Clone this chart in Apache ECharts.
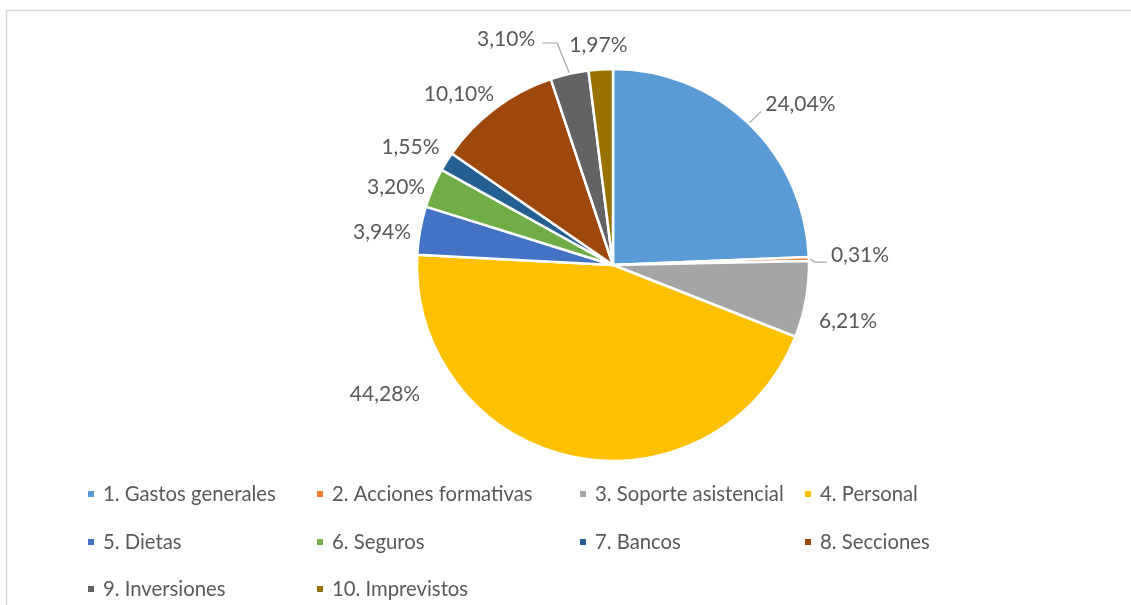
<!DOCTYPE html>
<html>
<head>
<meta charset="utf-8">
<script src="https://cdn.jsdelivr.net/npm/echarts@6/dist/echarts.min.js"></script>
<style>
html,body{margin:0;padding:0;background:#fff;}
#chart{width:1131px;height:605px;}
</style>
</head>
<body>
<div id="chart"></div>
<script>
const categories = ['1. Gastos generales', '2. Acciones formativas', '3. Soporte asistencial', '4. Personal', '5. Dietas', '6. Seguros', '7. Bancos', '8. Secciones', '9. Inversiones', '10. Imprevistos'];
const values = [24.04, 0.31, 6.21, 44.28, 3.94, 3.20, 1.55, 10.10, 3.10, 1.97];
const colors = ['#5B9BD5', '#ED7D31', '#A5A5A5', '#FFC000', '#4472C4', '#70AD47', '#255E91', '#9E480E', '#636363', '#997300'];

// label placement styling (Excel "best fit"): [angle from 12 o'clock clockwise, distance of text centre]
const CX = 613, CY = 265, R = 196;
const labelAngle = [49.4, 87.7, 103.4, 240.4, 278.1, 289.7, 300.1, 317.9, 334.7, 356.2];
const labelDist = [246.8, 247.2, 241.6, 262.2, 233.3, 230.4, 234.1, 229.8, 250, 220];
const leaderItems = [0, 1, 8];
const FONT = 'Lato';
const TEXT = '#595959';

const total = values.reduce((a, b) => a + b, 0);
const midAngles = [];
let cum = 0;
values.forEach(v => { midAngles.push((cum + v / 2) / total * 360); cum += v; });

const chart = echarts.init(document.getElementById('chart'), null, {renderer: 'canvas'});

const data = categories.map((name, i) => ({
  name: name,
  value: values[i],
  itemStyle: {color: colors[i]},
  labelLine: {show: leaderItems.indexOf(i) >= 0}
}));

// legend grid: column of each item and its row
const legendColLeft = [86, 315, 578, 803];
const legendRowTop = [483, 531, 578];
const legends = categories.map((name, i) => ({
  orient: 'horizontal',
  left: legendColLeft[i % 4],
  top: legendRowTop[Math.floor(i / 4)],
  padding: 0,
  itemWidth: 8,
  itemHeight: 8,
  icon: 'rect',
  selectedMode: false,
  data: [name],
  textStyle: {fontFamily: FONT, fontSize: 20.3, color: TEXT, lineHeight: 22, padding: [0, 0, 0, 3]}
}));

chart.setOption({
  animation: false,
  backgroundColor: '#fff',
  color: colors,
  graphic: [{
    type: 'rect',
    shape: {x: 6.5, y: 10.5, width: 1300, height: 800},
    style: {fill: 'none', stroke: '#d9d9d9', lineWidth: 1.5},
    silent: true, z: -10
  }],
  legend: legends,
  series: [{
    type: 'pie',
    center: [CX, CY],
    radius: R,
    startAngle: 90,
    clockwise: true,
    avoidLabelOverlap: false,
    itemStyle: {borderColor: '#ffffff', borderWidth: 2.5},
    label: {
      show: true,
      position: 'outside',
      fontFamily: FONT,
      fontSize: 21,
      color: TEXT,
      formatter: p => p.value.toFixed(2).replace('.', ',') + '%'
    },
    labelLine: {show: false, length: 5, length2: 5, lineStyle: {color: '#a6a6a6', width: 1.2}},
    emphasis: {disabled: true},
    labelLayout: function (params) {
      const i = params.dataIndex;
      const w = params.labelRect.width;
      const ang = labelAngle[i] * Math.PI / 180;
      const lx = CX + labelDist[i] * Math.sin(ang), ly = CY - labelDist[i] * Math.cos(ang);
      const res = {x: lx, y: ly, align: 'center', verticalAlign: 'middle'};
      if (leaderItems.indexOf(i) >= 0) {
        const ma = midAngles[i] * Math.PI / 180;
        const p1 = [CX + (R + 1) * Math.sin(ma), CY - (R + 1) * Math.cos(ma)];
        let pts;
        if (Math.sin(ang) > 0) {
          const p3 = [lx - w / 2 - 4, ly + 7];
          pts = (i === 0) ? [p1, p3] : [p1, [p3[0] - 12, p3[1]], p3];
        } else {
          const p3 = [lx + w / 2 + 7, ly + 4];
          pts = [p1, [p3[0] + 15, p3[1]], p3];
        }
        res.labelLinePoints = pts;
      }
      return res;
    },
    data: data
  }]
});
</script>
</body>
</html>
